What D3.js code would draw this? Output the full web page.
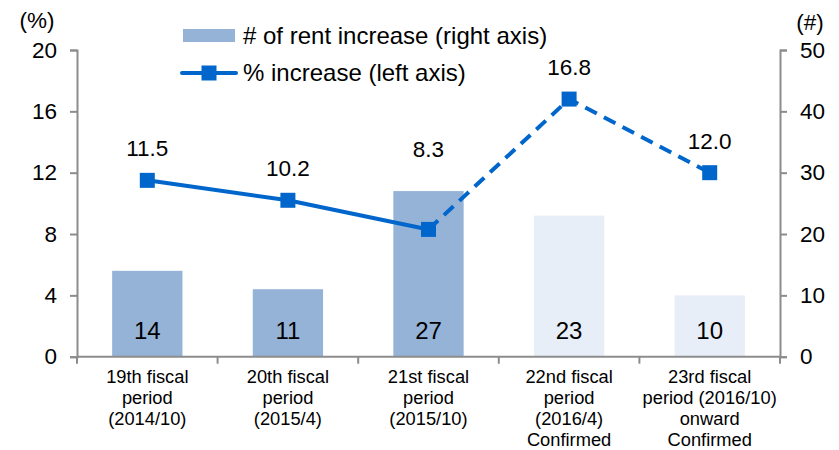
<html>
<head>
<style>
  body { margin: 0; background: #fff; }
  text { font-family: "Liberation Sans", Arial, sans-serif; fill: #000; }
  .axis path, .axis line { stroke: #8c8c8c; stroke-width: 2px; }
</style>
</head>
<body>
<svg id="chart" width="839" height="450"></svg>
<script src="https://d3js.org/d3.v7.min.js"></script>
<script>
// data
const periods = [
  ["19th fiscal", "period", "(2014/10)"],
  ["20th fiscal", "period", "(2015/4)"],
  ["21st fiscal", "period", "(2015/10)"],
  ["22nd fiscal", "period", "(2016/4)", "Confirmed"],
  ["23rd fiscal", "period (2016/10)", "onward", "Confirmed"]
]
const rentCount = [14, 11, 27, 23, 10]
const pctIncrease = [11.5, 10.2, 8.3, 16.8, 12.0]
const confirmed = [false, false, false, true, true]  // future periods: pale bars, dashed line
const leftTicks = [0, 4, 8, 12, 16, 20]
const rightTicks = [0, 10, 20, 30, 40, 50]

const svg = d3.select("#chart")
const plotL = 77, plotR = 780, plotT = 50, plotB = 356.7

const x = d3.scaleBand().domain(d3.range(periods.length)).range([plotL, plotR]).paddingInner(0).paddingOuter(0)
const yL = d3.scaleLinear().domain([0, 20]).range([plotB, plotT])
const yR = d3.scaleLinear().domain([0, 50]).range([plotB, plotT])
const barW = x.bandwidth() * 0.5

// bars
svg.selectAll(".bar").data(rentCount).enter().append("rect")
  .attr("x", (d, i) => x(i) + x.bandwidth() / 2 - barW / 2)
  .attr("y", d => yR(d))
  .attr("width", barW)
  .attr("height", d => plotB - yR(d))
  .attr("fill", (d, i) => confirmed[i] ? "#e8eef7" : "#95b3d7")

svg.selectAll(".barlabel").data(rentCount).enter().append("text")
  .attr("x", (d, i) => x(i) + x.bandwidth() / 2)
  .attr("y", 339)
  .attr("text-anchor", "middle")
  .attr("font-size", "24px")
  .text(d => d)

// axes
const gL = svg.append("g").attr("class", "axis")
  .attr("transform", "translate(" + plotL + ",0)")
  .call(d3.axisLeft(yL).tickValues(leftTicks).tickSize(7).tickSizeOuter(7).tickPadding(13))
const gR = svg.append("g").attr("class", "axis")
  .attr("transform", "translate(" + plotR + ",0)")
  .call(d3.axisRight(yR).tickValues(rightTicks).tickSize(7).tickSizeOuter(7).tickPadding(13))
;[gL, gR].forEach(g => g.selectAll("text").attr("font-size", "22.5px").style("font-family", "Liberation Sans, Arial, sans-serif").attr("fill", "#000"))

const boundaries = d3.range(periods.length + 1).map(i => i < periods.length ? x(i) : plotR)
const gX = svg.append("g").attr("class", "axis")
gX.append("line").attr("x1", plotL).attr("x2", plotR).attr("y1", plotB).attr("y2", plotB)
gX.selectAll(".tk").data(boundaries).enter().append("line")
  .attr("x1", d => d).attr("x2", d => d).attr("y1", plotB).attr("y2", plotB + 7)

periods.forEach((lines, i) => {
  const t = svg.append("text")
    .attr("text-anchor", "middle")
    .attr("font-size", "18.3px")
  lines.forEach((s, j) => {
    t.append("tspan").attr("x", x(i) + x.bandwidth() / 2).attr("y", 382.5 + j * 21.2).text(s)
  })
})

svg.append("text").attr("x", 37).attr("y", 28).attr("text-anchor", "middle").attr("font-size", "22.5px").text("(%)")
svg.append("text").attr("x", 810).attr("y", 30).attr("text-anchor", "middle").attr("font-size", "22.5px").text("(#)")

// line
const pts = pctIncrease.map((v, i) => [x(i) + x.bandwidth() / 2, yL(v)])
const line = d3.line()
svg.append("path").attr("d", line(pts.slice(0, 3)))
  .attr("fill", "none").attr("stroke", "#0066cc").attr("stroke-width", 4)
svg.append("path").attr("d", line(pts.slice(2)))
  .attr("fill", "none").attr("stroke", "#0066cc").attr("stroke-width", 4)
  .attr("stroke-dasharray", "13,8")

svg.selectAll(".mk").data(pts).enter().append("rect")
  .attr("x", d => d[0] - 7.5).attr("y", d => d[1] - 7.5)
  .attr("width", 15).attr("height", 15).attr("fill", "#0066cc")

svg.selectAll(".vl").data(pctIncrease).enter().append("text")
  .attr("x", (d, i) => x(i) + x.bandwidth() / 2)
  .attr("y", (d, i) => Math.min(yL(d), yR(rentCount[i]) - 10) - 24)
  .attr("text-anchor", "middle")
  .attr("font-size", "22.5px")
  .text(d => d.toFixed(1))

// legend
const lg = svg.append("g")
lg.append("rect").attr("x", 183).attr("y", 29).attr("width", 52).attr("height", 13).attr("fill", "#95b3d7")
lg.append("text").attr("x", 243).attr("y", 44).attr("font-size", "24px").text("# of rent increase (right axis)")
lg.append("line").attr("x1", 182).attr("x2", 236).attr("y1", 73).attr("y2", 73)
  .attr("stroke", "#0066cc").attr("stroke-width", 4).attr("stroke-linecap", "round")
lg.append("rect").attr("x", 201.5).attr("y", 65.5).attr("width", 15).attr("height", 15).attr("fill", "#0066cc")
lg.append("text").attr("x", 243).attr("y", 81).attr("font-size", "24px").text("% increase (left axis)")
</script>
</body>
</html>
